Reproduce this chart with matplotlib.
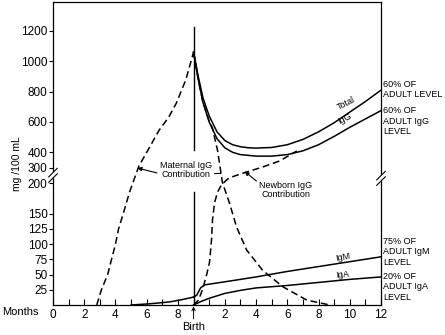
import matplotlib
matplotlib.use('Agg')
import matplotlib.pyplot as plt
import numpy as np

plt.rcParams['font.family'] = ['Liberation Sans', 'DejaVu Sans']

# x runs 0-21: 0-9 = months before birth, 9-21 = 0-12 months after birth
total_x = [9, 9.3, 9.6, 10, 10.5, 11, 11.5, 12, 12.5, 13, 14, 15, 16, 17, 18, 19, 20, 21]
total_y = [1060, 900, 760, 640, 535, 478, 450, 437, 430, 428, 432, 450, 485, 535, 595, 665, 735, 810]

igg_x = [9, 9.3, 9.6, 10, 10.5, 11, 11.5, 12, 13, 14, 15, 16, 17, 18, 19, 20, 21]
igg_y = [1060, 880, 730, 600, 490, 430, 400, 385, 375, 375, 385, 410, 450, 505, 565, 620, 675]

# maternal IgG: placental transfer before birth, decay afterwards
mat_pre_x = [2.8, 3.1, 3.5, 4.0, 4.2, 4.5, 4.9, 5.5, 6.0, 6.8, 7.4, 7.9, 8.5, 9.0]
mat_pre_y = [0, 25, 50, 100, 125, 150, 185, 310, 400, 547, 630, 725, 877, 1060]
mat_post_x = [9, 9.3, 9.6, 10, 10.21, 10.53, 10.85, 11.3, 11.75, 12.4, 13.42, 14.71, 16.25, 17.73]
mat_post_y = [1060, 880, 730, 605, 560, 415, 202, 167, 128, 90, 57, 30, 8, 0]

newborn_x = [9.0, 9.31, 9.57, 9.83, 10.02, 10.15, 10.21, 10.34, 10.53, 10.79, 11.18, 11.62, 12.4, 13.42, 14.51, 15.61]
newborn_y = [0, 8, 25, 49, 70, 107, 139, 167, 185, 197, 226, 245, 271, 303, 343, 409]

fetal_x = [5.0, 6.2, 7.45, 8.3, 9.0]
fetal_y = [0, 2, 5, 9, 13]

igm_x = [9, 9.2, 9.45, 9.7, 11, 13, 15, 17, 19, 21]
igm_y = [13, 16, 28, 33, 38, 46, 55, 63, 71, 79]

iga_x = [9, 9.5, 10, 11, 12, 13, 15, 17, 19, 21]
iga_y = [0, 6, 11, 19, 24, 28, 32, 37, 42, 46]

birth_line = [(0, 185), (415, 1226)]

yticks = [25, 50, 75, 100, 125, 150, 200, 300, 400, 600, 800, 1000, 1200]
xtick_pos = list(range(22))
xtick_lab = ['0', '', '2', '', '4', '', '6', '', '8', '', '', '2', '', '4', '', '6', '', '8', '', '10', '', '12']

# broken y scale: 0-200 stretched, 200-300 squeezed, 300+ compressed
sc_v = [0, 200, 300, 1400]
sc_p = [0, 122, 137.5, 137.5 + 1100 * 0.1517]

def forward(v):
    return np.interp(v, sc_v, sc_p)

def inverse(p):
    return np.interp(p, sc_p, sc_v)

fig = plt.figure(figsize=(4.45, 3.35), dpi=100)
ax = fig.add_axes([53 / 445, 30 / 335, 328 / 445, 303 / 335])
ax.set_yscale('function', functions=(forward, inverse))
ax.set_xlim(0, 21)
ax.set_ylim(0, 1391)

dash = (0, (4.5, 2.5))
lw = 1.1
ax.plot(total_x, total_y, color='black', lw=lw)
ax.plot(igg_x, igg_y, color='black', lw=lw)
ax.plot(mat_pre_x, mat_pre_y, color='black', lw=lw, ls=dash)
ax.plot(mat_post_x, mat_post_y, color='black', lw=lw, ls=dash)
ax.plot(newborn_x, newborn_y, color='black', lw=lw, ls=dash)
ax.plot(fetal_x, fetal_y, color='black', lw=lw)
ax.plot(igm_x, igm_y, color='black', lw=lw)
ax.plot(iga_x, iga_y, color='black', lw=lw)
for lo, hi in birth_line:
    ax.plot([9, 9], [lo, hi], color='black', lw=1.0)

for s in ax.spines.values():
    s.set_linewidth(0.9)

ax.set_yticks(yticks)
ax.set_yticklabels([str(t) for t in yticks])
ax.minorticks_off()
ax.tick_params(axis='y', direction='out', length=3, width=0.8, labelsize=8.5, pad=1)
ax.set_xticks(xtick_pos)
ax.set_xticklabels(xtick_lab)
ax.tick_params(axis='x', direction='in', length=4, width=0.8, labelsize=8.5, pad=3)

# axis breaks
for xb, yb in [(0, 0.428), (1, 0.418)]:
    ax.fill([xb - 0.006, xb + 0.006, xb + 0.006, xb - 0.006],
            [yb - 0.012, yb - 0.004, yb + 0.012, yb + 0.004],
            color='white', transform=ax.transAxes, clip_on=False, zorder=5)
    for dy in (-0.009, 0.009):
        ax.plot([xb - 0.013, xb + 0.013], [yb + dy - 0.014, yb + dy + 0.014],
                color='black', lw=0.8, transform=ax.transAxes, clip_on=False, zorder=6)

fs = 6.5
ax.annotate('Maternal IgG\nContribution', xy=(5.4, 297), xytext=(8.5, 284),
            ha='center', va='center', fontsize=fs, linespacing=1.05,
            arrowprops=dict(arrowstyle='-|>', color='black', lw=0.8,
                            mutation_scale=6, relpos=(0, 0.3), shrinkA=0, shrinkB=0))
# leader from the label over to the falling maternal curve
ax.annotate('Maternal IgG\nContribution', xy=(10.75, 262), xytext=(8.5, 284),
            ha='center', va='center', fontsize=fs, linespacing=1.05, color='none',
            arrowprops=dict(arrowstyle='-', color='black', lw=0.8,
                            relpos=(1, 0.3), shrinkA=0, shrinkB=0))
ax.annotate('Newborn IgG\nContribution', xy=(12.27, 275), xytext=(14.9, 189),
            ha='center', va='center', fontsize=fs, linespacing=1.05,
            arrowprops=dict(arrowstyle='-|>', color='black', lw=0.8,
                            mutation_scale=6, relpos=(0, 0.85), shrinkA=0, shrinkB=0))

ax.text(18.75, 725, 'Total', rotation=27, fontsize=fs, ha='center', va='center')
ax.text(18.69, 620, 'IgG', rotation=27, fontsize=fs, ha='center', va='center')
ax.text(18.56, 79, 'IgM', rotation=10, fontsize=fs, ha='center', va='center')
ax.text(18.56, 49, 'IgA', rotation=6, fontsize=fs, ha='center', va='center')

side = [(814, '60% OF\nADULT LEVEL'), (606, '60% OF\nADULT IgG\nLEVEL'),
        (87, '75% OF\nADULT IgM\nLEVEL'), (30, '20% OF\nADULT IgA\nLEVEL')]
for yv, txt in side:
    ax.text(21.15, yv, txt, fontsize=fs, ha='left', va='center',
            linespacing=1.2, clip_on=False)

ax.annotate('', xy=(9, 0), xytext=(0, -10), textcoords='offset points',
            annotation_clip=False,
            arrowprops=dict(arrowstyle='->', color='black', lw=0.7,
                            mutation_scale=6, shrinkA=0, shrinkB=1))
ax.annotate('Birth', xy=(9, 0), xytext=(0, -12.5), textcoords='offset points',
            ha='center', va='top', fontsize=8, annotation_clip=False)

fig.text(2 / 445, 1 - 312 / 335, 'Months', fontsize=8, ha='left', va='center')
fig.text(17 / 445, 1 - 164 / 335, 'mg /100 mL', fontsize=7.5, rotation=90,
         ha='center', va='center')

fig.savefig('out.png', dpi=100)
